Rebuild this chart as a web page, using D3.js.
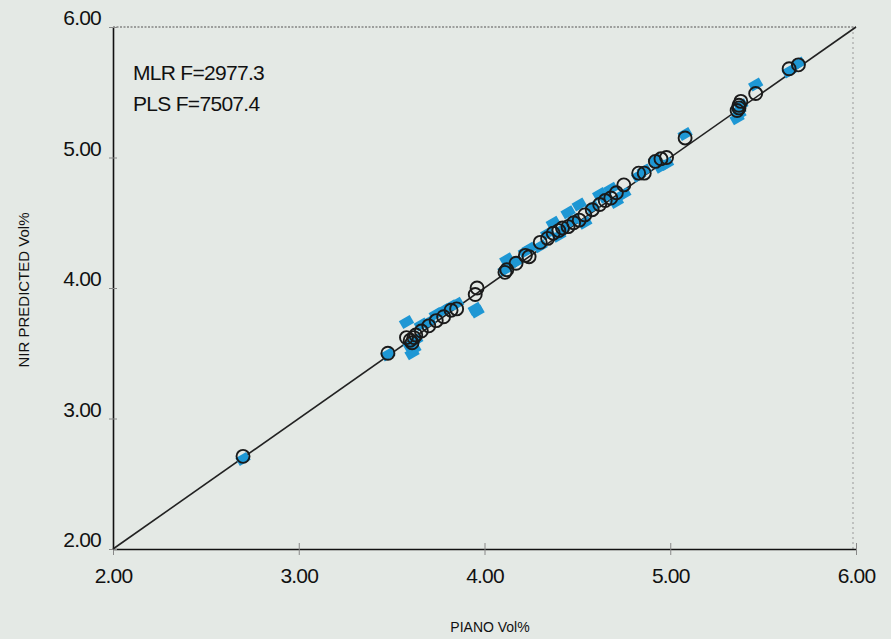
<!DOCTYPE html>
<html>
<head>
<meta charset="utf-8">
<script src="https://cdn.jsdelivr.net/npm/d3@7"></script>
<style>
  body { margin: 0; background: #e4e9e5; }
  svg { display: block; font-family: "Liberation Sans", Arial, sans-serif; }
</style>
</head>
<body>
<div id="chart"></div>
<script>
// reference values (PIANO Vol%) and predictions
var piano = [2.70, 3.48, 3.58, 3.60, 3.61, 3.62, 3.63, 3.66, 3.70, 3.74, 3.78, 3.82, 3.85, 3.95, 3.96,
             4.11, 4.12, 4.17, 4.22, 4.24, 4.30, 4.34, 4.37, 4.40, 4.42, 4.45, 4.48, 4.51, 4.54, 4.58,
             4.62, 4.65, 4.68, 4.71, 4.75, 4.83, 4.86, 4.92, 4.95, 4.98, 5.08, 5.36, 5.37, 5.38, 5.37,
             5.46, 5.64, 5.69];
var pls   = [2.71, 3.50, 3.62, 3.60, 3.58, 3.62, 3.64, 3.67, 3.71, 3.75, 3.78, 3.83, 3.84, 3.95, 4.00,
             4.12, 4.14, 4.19, 4.25, 4.24, 4.35, 4.38, 4.42, 4.44, 4.46, 4.47, 4.50, 4.52, 4.56, 4.60,
             4.64, 4.67, 4.69, 4.73, 4.79, 4.88, 4.88, 4.97, 4.99, 5.00, 5.15, 5.36, 5.40, 5.43, 5.38,
             5.49, 5.68, 5.71];
var mlr   = [2.69, 3.49, 3.74, 3.56, 3.50, 3.53, 3.60, 3.72, 3.74, 3.80, 3.83, 3.86, 3.88, 3.84, 3.82,
             4.14, 4.22, 4.20, 4.28, 4.30, 4.32, 4.42, 4.50, 4.40, 4.45, 4.58, 4.52, 4.64, 4.50, 4.62,
             4.72, 4.70, 4.76, 4.66, 4.72, 4.86, 4.90, 4.98, 4.93, 4.95, 5.18, 5.30, 5.36, 5.40, 5.33,
             5.56, 5.66, 5.72];
var ticks = [2, 3, 4, 5, 6];
var notes = ["MLR  F=2977.3", "PLS  F=7507.4"];

var W = 891, H = 639;
var svg = d3.select("#chart").append("svg")
    .attr("width", W)
    .attr("height", H);

var x = d3.scaleLinear().domain([2, 6]).range([113, 856]);
var y = d3.scaleLinear().domain([2, 6]).range([549, 27]);

// frame: dotted top / right
svg.append("line")
    .attr("x1", x(2)).attr("x2", x(6)).attr("y1", y(6)).attr("y2", y(6))
    .attr("stroke", "#555").attr("stroke-width", 1.2).attr("stroke-dasharray", "2,1.5");
svg.append("line")
    .attr("x1", x(6) - 3).attr("x2", x(6) - 3).attr("y1", y(6)).attr("y2", y(2))
    .attr("stroke", "#999").attr("stroke-width", 1).attr("stroke-dasharray", "2,3");

// axes
var xAxis = svg.append("g")
    .attr("transform", "translate(0," + y(2) + ")")
    .call(d3.axisBottom(x).tickValues(ticks).tickSize(6).tickSizeOuter(0).tickFormat(d3.format(".2f")));
xAxis.select(".domain").attr("stroke", "#111").attr("stroke-width", 1.6);
xAxis.selectAll(".tick line").attr("y1", -6).attr("y2", 6).attr("stroke", "#888");
xAxis.selectAll(".tick text")
    .attr("dy", "1.05em").attr("y", 12)
    .style("font-size", "21px").style("letter-spacing", "-0.8px").attr("fill", "#111");

var yAxis = svg.append("g")
    .attr("transform", "translate(" + x(2) + ",0)")
    .call(d3.axisLeft(y).tickValues(ticks).tickSize(4).tickSizeOuter(0).tickFormat(d3.format(".2f")));
yAxis.select(".domain").attr("stroke", "#111").attr("stroke-width", 1.6);
yAxis.selectAll(".tick line").attr("x1", -4).attr("x2", 4).attr("stroke", "#888");
yAxis.selectAll(".tick text")
    .attr("x", -12).attr("dy", "-0.1em")
    .style("font-size", "21px").style("letter-spacing", "-0.8px").attr("fill", "#111");

// 1:1 line
svg.append("line")
    .attr("x1", x(2)).attr("y1", y(2)).attr("x2", x(6)).attr("y2", y(6))
    .attr("stroke", "#222").attr("stroke-width", 1.6);

var idx = d3.range(piano.length);

// MLR markers: blue tilted squares
svg.append("g").selectAll("path")
    .data(idx)
    .enter()
  .append("path")
    .attr("d", d3.symbol().type(d3.symbolSquare).size(100))
    .attr("transform", function(i) {
        return "translate(" + x(piano[i]) + "," + y(mlr[i]) + ") rotate(-30) scale(1.25,0.9)";
    })
    .attr("fill", "#1e97d4");

// PLS markers: open black circles
svg.append("g").selectAll("circle")
    .data(idx)
    .enter()
  .append("circle")
    .attr("cx", function(i) { return x(piano[i]); })
    .attr("cy", function(i) { return y(pls[i]); })
    .attr("r", 6.5)
    .attr("fill", "none")
    .attr("stroke", "#1a1a1a")
    .attr("stroke-width", 1.9);

// annotation
svg.append("g").selectAll("text")
    .data(notes)
    .enter()
  .append("text")
    .attr("x", 133)
    .attr("y", function(d, i) { return 80 + i * 31; })
    .style("font-size", "21px")
    .style("letter-spacing", "-0.7px")
    .attr("fill", "#111")
    .text(function(d) { return d; });

// axis titles
svg.append("text")
    .attr("x", 490).attr("y", 632)
    .attr("text-anchor", "middle")
    .style("font-size", "14px")
    .attr("fill", "#111")
    .text("PIANO Vol%");
svg.append("text")
    .attr("transform", "translate(29,290) rotate(-90)")
    .attr("text-anchor", "middle")
    .style("font-size", "15px")
    .attr("fill", "#111")
    .text("NIR PREDICTED Vol%");
</script>
</body>
</html>
